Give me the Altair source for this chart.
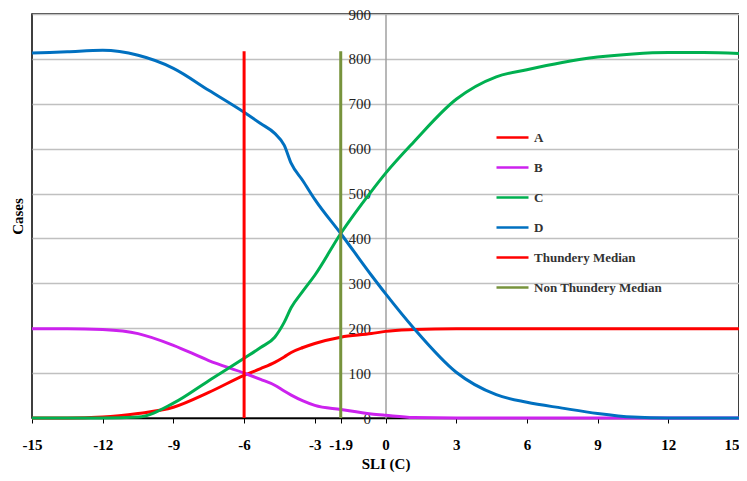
import altair as alt
import pandas as pd

sli = [-15, -13.5, -12, -10.5, -9, -7.5, -6, -5.3, -4.7, -4.3, -4, -3.5, -3, -1.9, -0.6, 0, 1.2, 3, 4.7, 6, 7.5, 9, 10.5, 12, 13.5, 15]
series_A = [0, 0, 2, 10, 24, 57, 95, 110, 124, 136, 146, 157, 166, 180, 188, 193, 197, 199, 199, 199, 199, 199, 199, 199, 199, 199]
series_B = [199, 199, 197, 188, 162, 128, 100, 86, 73, 60, 51, 38, 28, 19, 9, 6, 1, 0, 0, 0, 0, 0, 0, 0, 0, 0]
series_C = [0, 0, 0, 2, 33, 83, 133, 157, 180, 213, 246, 283, 318, 411, 505, 545, 615, 710, 760, 776, 792, 804, 811, 814, 814, 812]
series_D = [813, 816, 819, 808, 779, 730, 681, 656, 634, 608, 567, 528, 487, 411, 318, 277, 200, 102, 52, 35, 22, 10, 2, 0, 0, 0]

series_names = ["A", "B", "C", "D", "Thundery Median", "Non Thundery Median"]
series_colors = ["#ff0000", "#cc22ee", "#00b050", "#0070c0", "#ff0000", "#77933c"]

median_names = ["Thundery Median", "Non Thundery Median"]
median_sli = [-6, -1.9]
median_top = [817, 817]

x_ticks = [-15, -12, -9, -6, -3, -1.9, 0, 3, 6, 9, 12, 15]
y_ticks = [0, 100, 200, 300, 400, 500, 600, 700, 800, 900]

rows = []
for name, vals in zip(["A", "B", "C", "D"], [series_A, series_B, series_C, series_D]):
    for xv, yv in zip(sli, vals):
        rows.append({"SLI": xv, "Cases": yv, "Series": name})
df = pd.DataFrame(rows)
med = pd.DataFrame({"SLI": median_sli, "Top": median_top, "Bottom": [0, 0], "Series": median_names})

SERIF = "Liberation Serif, Times New Roman, DejaVu Serif, serif"
W = 707

color = alt.Color(
    "Series:N",
    scale=alt.Scale(domain=series_names, range=series_colors),
    legend=alt.Legend(
        title=None, orient="none", legendX=463, legendY=106,
        symbolType="stroke", symbolSize=1024, symbolStrokeWidth=2.5,
        labelFont=SERIF, labelFontSize=13, labelFontWeight="bold", labelColor="#333333",
        rowPadding=5, labelOffset=4, padding=0, labelLimit=300,
    ),
)

x = alt.X(
    "SLI:Q",
    scale=alt.Scale(domain=[-15, 15], nice=False, zero=False),
    axis=alt.Axis(
        values=x_ticks, labelExpr="'' + datum.value", grid=False,
        labelAlign={"condition": {"test": "datum.value == 15", "value": "right"}, "value": "center"},
        labelFont=SERIF, labelFontSize=15, labelFontWeight="bold", labelColor="black",
        labelOverlap=False, labelFlush=False, labelBound=False,
        tickColor="black", tickSize=5, domainColor="black", domainWidth=1.5,
        labelPadding=14, title="SLI  (C)", titleFont=SERIF, titleFontSize=15,
        titleFontWeight="bold", titleColor="black", titlePadding=4,
    ),
)

y = alt.Y(
    "Cases:Q",
    scale=alt.Scale(domain=[0, 900], nice=False),
    axis=alt.Axis(
        values=y_ticks, offset=-W / 2, grid=True, gridColor="#c0c0c0", gridWidth=1.5,
        domainColor="#a0a0a0", domainWidth=1.5, tickSize=0, labelPadding=15,
        labelFont=SERIF, labelFontSize=15, labelColor="#222222", labelFontWeight="normal",
        title="Cases", titleFont=SERIF, titleFontSize=15, titleFontWeight="bold",
        titleColor="black", titleX=-W / 2 - 7, titleY=202, titleAngle=270,
    ),
)

lines = alt.Chart(df).mark_line(strokeWidth=3, interpolate="monotone").encode(
    x=x, y=y, color=color
)

rules = alt.Chart(med).mark_rule(strokeWidth=3).encode(
    x=alt.X("SLI:Q"), y=alt.Y("Bottom:Q"), y2="Top:Q", color=color
)

chart = (
    alt.layer(lines, rules)
    .properties(
        width=W, height=404,
        autosize=alt.AutoSizeParams(type="none"),
        padding={"left": 24, "top": 6, "right": 0, "bottom": 55},
        background="white",
    )
    .configure_view(stroke="black", strokeWidth=1.5)
)

chart.save("out.html", embed_options={"renderer": "svg", "actions": False})
